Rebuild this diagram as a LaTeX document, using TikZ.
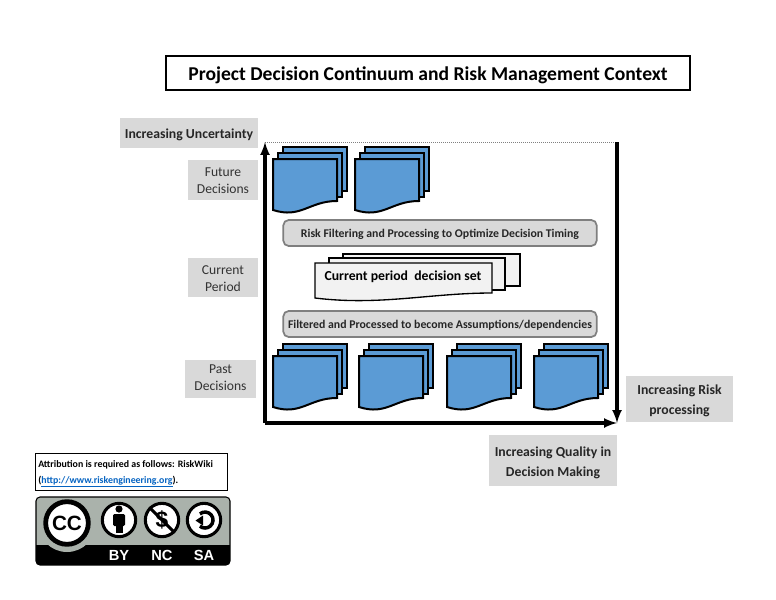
\documentclass[tikz,border=0pt]{standalone}
\usepackage{fontspec}
\setmainfont{Carlito}
\newfontfamily\badgefont{Liberation Sans}
\definecolor{sheetblue}{HTML}{5B9BD5}
\definecolor{sheetpale}{HTML}{F2F2F2}
\definecolor{labelgray}{HTML}{D9D9D9}
\definecolor{barborder}{HTML}{7F7F7F}
\definecolor{badgegray}{HTML}{AAB2AB}
\definecolor{linkblue}{HTML}{0563C1}
\tikzset{
  sheet/.style={draw=black, line width=1.5pt, line join=miter},
  graylabel/.style={fill=labelgray, align=center, inner sep=0pt, font=\fontsize{10.2}{12.9}\selectfont, text=black!80},
  boldlabel/.style={fill=labelgray, align=center, inner sep=0pt, font=\bfseries\fontsize{10.3}{15}\selectfont, text=black!85},
  filterbar/.style={draw=barborder, line width=1.3pt, fill=labelgray, rounded corners=4pt, minimum width=235pt, minimum height=19.5pt, inner sep=0pt, font=\bfseries\fontsize{8.85}{10}\selectfont, text=black!85},
  axisline/.style={->, >=latex, line width=2.3pt},
  ringicon/.style={draw=black, line width=2.3pt, fill=white, circle, minimum size=25pt, inner sep=0pt}
}
% #1 drop of the text, #2 the text
\newcommand{\lowered}[2]{\raisebox{-#1}[\height][\depth]{#2}}
% #1 left edge, #2 top edge of the front sheet
\newcommand{\docstack}[2]{
  \draw[sheet, fill=sheetblue] (#1+10,#2-12) rectangle (#1+74,#2+32);
  \draw[sheet, fill=sheetblue] (#1+5,#2-6) rectangle (#1+69,#2+38);
  \draw[sheet, fill=sheetblue] (#1,#2) -- (#1+64,#2) -- (#1+64,#2+42)
    .. controls (#1+36,#2+42) and (#1+28,#2+60) .. (#1,#2+51) -- cycle;
}
\begin{document}
\begin{tikzpicture}[x=0.75pt, y=-0.75pt]
\useasboundingbox (0,0) rectangle (776,600);

% Title
\draw[line width=1pt] (166,56) rectangle (690,90);
\node[inner sep=0pt, font=\bfseries\fontsize{14.7}{16}\selectfont] (title) at (428,75.5) {Project Decision Continuum and Risk Management Context};

% Axes
\coordinate (origin) at (265,423);
\coordinate (topleft) at (265,142);
\coordinate (topright) at (617,142);
\coordinate (bottomright) at (617,423);
\draw[densely dotted, line width=0.5pt, gray] (topleft) -- (topright);
\draw[axisline] (origin) -- (topleft);
\draw[axisline] (origin) -- (bottomright);
\draw[axisline] (topright) -- (bottomright);

% Row labels
\node[boldlabel, minimum width=103.5pt, minimum height=22.5pt] (uncertainty) at (189,133) {\lowered{1.5pt}{Increasing Uncertainty}};
\node[graylabel, minimum width=52.5pt, minimum height=30pt] (future) at (223,180) {\lowered{0.7pt}{Future}\\\lowered{0.7pt}{Decisions}};
\node[graylabel, minimum width=52.5pt, minimum height=29.5pt] (current) at (223,277.5) {\lowered{0.7pt}{Current}\\\lowered{0.7pt}{Period}};
\node[graylabel, minimum width=53pt, minimum height=28.5pt] (past) at (220.5,379) {\raisebox{0.7pt}[\height][\depth]{Past}\\\raisebox{0.7pt}[\height][\depth]{Decisions}};
\node[boldlabel, minimum width=80pt, minimum height=34.5pt] (risk) at (679.5,399) {\lowered{1.7pt}{Increasing Risk}\\\lowered{1.7pt}{processing}};
\node[boldlabel, minimum width=96pt, minimum height=38pt] (quality) at (553,460.5) {\lowered{1.5pt}{Increasing Quality in}\\\lowered{1.5pt}{Decision Making}};

% Future decisions
\docstack{273}{159}
\docstack{355}{159}

% Filter bars
\node[filterbar] (filtertop) at (440,233) {\lowered{0.7pt}{Risk Filtering and Processing to Optimize Decision Timing}};
\node[filterbar] (filterbottom) at (440,324) {\lowered{0.7pt}{Filtered and Processed to become Assumptions/dependencies}};

% Current period set
\draw[sheet, line width=1pt, fill=sheetpale] (343,254) rectangle (520,286);
\draw[sheet, line width=1pt, fill=sheetpale] (329,258) rectangle (505,290);
\draw[sheet, line width=1pt, fill=sheetpale] (315,263) -- (492,263) -- (492,293)
  .. controls (430,293) and (380,306) .. (315,298) -- cycle;
\node[font=\bfseries\fontsize{10.3}{12}\selectfont] (currentset) at (403,277) {Current period\ \ decision set};

% Past decisions
\foreach \px in {273,359,447,534} {
  \docstack{\px}{356}
}

% Attribution
\draw[line width=0.6pt] (35,453) rectangle (227,490);
\node[inner sep=0pt, align=left, anchor=north west, font=\bfseries\fontsize{7.4}{12}\selectfont] (attribution) at (38,460) {Attribution is required as follows: RiskWiki\\(\textcolor{linkblue}{\underline{http://www.riskengineering.org}}).};

% Licence badge
\fill[badgegray, rounded corners=3pt] (36,497) rectangle (230,565);
\begin{scope}
\clip[rounded corners=3pt] (36,497) rectangle (230,565);
\fill[black] (36,545) rectangle (230,565);
\fill[badgegray] (67,523) circle[radius=29];
\end{scope}
\draw[black, line width=0.8pt, rounded corners=3pt] (36,497) rectangle (230,565);
\node[draw=black, line width=3.6pt, fill=white, circle, minimum size=32pt, inner sep=0pt, font=\badgefont\bfseries\fontsize{15.5}{16}\selectfont] (ccmark) at (67,523) {CC};

\node[ringicon] (byring) at (119,520) {};
\node[ringicon] (ncring) at (162,520) {};
\node[ringicon] (saring) at (204,520) {};

% Person
\fill[black] (119,509) circle[radius=3.6];
\fill[black, rounded corners=1pt] (113,514) rectangle (125,526);
\fill[black] (115.5,520) rectangle (122.5,533);

% Dollar with slash
\node[font=\badgefont\bfseries\fontsize{17}{17}\selectfont] (dollar) at (162,520) {\$};
\draw[black, line width=2.3pt] (ncring.north west) -- (ncring.south east);

% Share alike
\draw[black, line width=2.6pt] (199.9,513.9) arc[start angle=-130, end angle=130, radius=8];
\fill[black] (195.5,520.5) -- (203,515.5) -- (203,525.5) -- cycle;

% Badge texts
\node[text=white, font=\badgefont\bfseries\fontsize{11}{12}\selectfont] (bytext) at (119,555.5) {BY};
\node[text=white, font=\badgefont\bfseries\fontsize{11}{12}\selectfont] (nctext) at (162,555.5) {NC};
\node[text=white, font=\badgefont\bfseries\fontsize{11}{12}\selectfont] (satext) at (204,555.5) {SA};
\end{tikzpicture}
\end{document}
